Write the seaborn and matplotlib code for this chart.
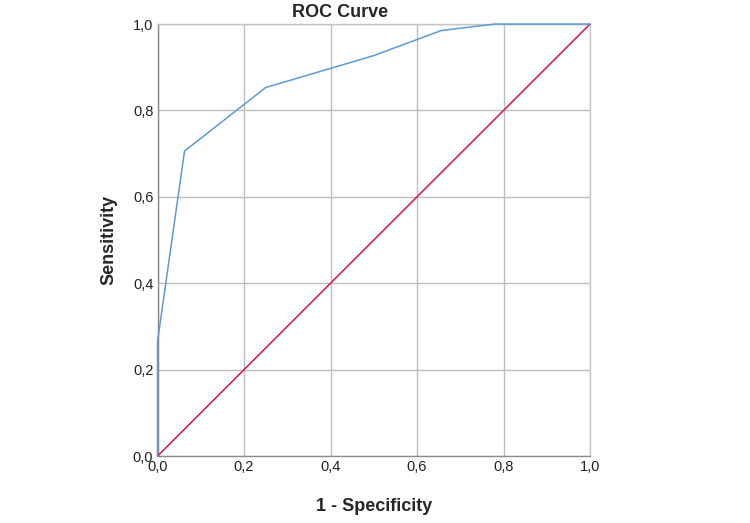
import pandas as pd
import seaborn as sns
import matplotlib.pyplot as plt
from matplotlib.ticker import FuncFormatter

# ROC curve points
FPR = [0.0, 0.0, 0.0625, 0.25, 0.5, 0.656, 0.78, 1.0]
TPR = [0.0, 0.265, 0.706, 0.853, 0.927, 0.985, 1.0, 1.0]
REF_X = [0.0, 1.0]
REF_Y = [0.0, 1.0]
TICKS = [0.0, 0.2, 0.4, 0.6, 0.8, 1.0]


def comma_fmt(v, _pos):
    return f"{v:.1f}".replace(".", ",")


def main():
    sns.set_style("white")
    plt.rcParams["font.family"] = ["Liberation Sans", "DejaVu Sans"]

    roc = pd.DataFrame({"fpr": FPR, "tpr": TPR})
    ref = pd.DataFrame({"x": REF_X, "y": REF_Y})

    fig = plt.figure(figsize=(7.5, 5.23), dpi=100)
    ax = fig.add_axes([0.21, 0.128, 0.5767, 0.826])

    sns.lineplot(data=ref, x="x", y="y", ax=ax, color="#d2164a", linewidth=1.1,
                 estimator=None, sort=False, zorder=4, clip_on=False)
    sns.lineplot(data=roc, x="fpr", y="tpr", ax=ax, color="#5b9bd5", linewidth=1.1,
                 estimator=None, sort=False, zorder=4, clip_on=False)

    ax.set_xlim(0, 1)
    ax.set_ylim(0, 1)
    ax.set_xticks(TICKS)
    ax.set_yticks(TICKS)
    ax.xaxis.set_major_formatter(FuncFormatter(comma_fmt))
    ax.yaxis.set_major_formatter(FuncFormatter(comma_fmt))
    ax.tick_params(length=0, labelsize=10.5, labelcolor="#222222", pad=3)
    ax.grid(True, color="#bdbdbd", linewidth=1.0)
    ax.set_axisbelow(True)
    for side in ["left", "bottom"]:
        ax.spines[side].set_color("#8a8a8a")
        ax.spines[side].set_linewidth(1.0)
    for side in ["top", "right"]:
        ax.spines[side].set_color("#c4c4c4")
        ax.spines[side].set_linewidth(1.0)

    ax.set_title("ROC Curve", fontsize=13, fontweight="bold", pad=5, x=0.422)
    ax.set_xlabel("1 - Specificity", fontsize=13, fontweight="bold", labelpad=17)
    ax.set_ylabel("Sensitivity", fontsize=13, fontweight="bold", labelpad=11)

    fig.savefig("out.png", dpi=100)


if __name__ == "__main__":
    main()
